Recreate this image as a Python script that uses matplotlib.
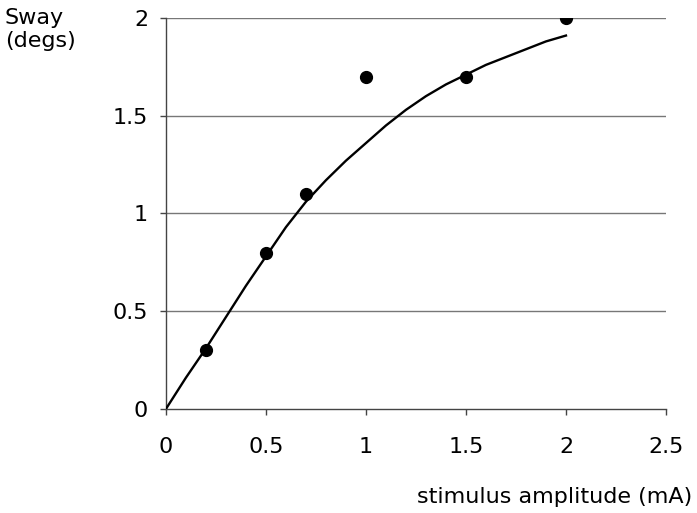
import matplotlib
matplotlib.use("Agg")
import matplotlib.pyplot as plt

# Data
pts_x = [0.2, 0.5, 0.7, 1.0, 1.5, 2.0]
pts_y = [0.3, 0.8, 1.1, 1.7, 1.7, 2.0]

fit_x = [0, 0.1, 0.2, 0.3, 0.4, 0.5, 0.6, 0.7, 0.8, 0.9, 1.0,
         1.1, 1.2, 1.3, 1.4, 1.5, 1.6, 1.7, 1.8, 1.9, 2.0]
fit_y = [0, 0.16, 0.31, 0.47, 0.63, 0.78, 0.93, 1.06, 1.17, 1.27, 1.36,
         1.45, 1.53, 1.60, 1.66, 1.71, 1.76, 1.80, 1.84, 1.88, 1.91]

x_ticks = [0, 0.5, 1, 1.5, 2, 2.5]
x_tick_labels = ["0", "0.5", "1", "1.5", "2", "2.5"]
y_ticks = [0, 0.5, 1, 1.5, 2]
y_tick_labels = ["0", "0.5", "1", "1.5", "2"]

plt.rcParams['font.family'] = ['DejaVu Sans']
fs = 16

fig = plt.figure(figsize=(6.97, 5.13), dpi=100)
ax = fig.add_axes([0.238, 0.2027, 0.7175, 0.7623])

for yv in y_ticks[1:]:
    ax.axhline(yv, color='#777777', lw=1.0, zorder=1)

ax.plot(fit_x, fit_y, color='black', lw=1.7, zorder=3)
ax.plot(pts_x, pts_y, 'o', color='black', markersize=8.5, zorder=4)

ax.set_xlim(0, 2.5)
ax.set_ylim(0, 2)
ax.set_xticks(x_ticks)
ax.set_xticklabels(x_tick_labels, fontsize=fs)
ax.set_yticks(y_ticks)
ax.set_yticklabels(y_tick_labels, fontsize=fs)
ax.tick_params(axis='x', direction='out', length=4.3, width=1, color='#444444', pad=16)
ax.tick_params(axis='y', direction='out', length=4.3, width=1, color='#444444', pad=8.5)

for s in ['top', 'right']:
    ax.spines[s].set_visible(False)
for s in ['left', 'bottom']:
    ax.spines[s].set_color('#444444')
    ax.spines[s].set_linewidth(1.0)

fig.text(5/697, 1 - 8/513, "Sway\n(degs)", fontsize=fs, ha='left', va='top', linespacing=1.2)
fig.text(692/697, 1 - 497/513, "stimulus amplitude (mA)", fontsize=fs, ha='right', va='center')

fig.savefig("out.png", dpi=100)
